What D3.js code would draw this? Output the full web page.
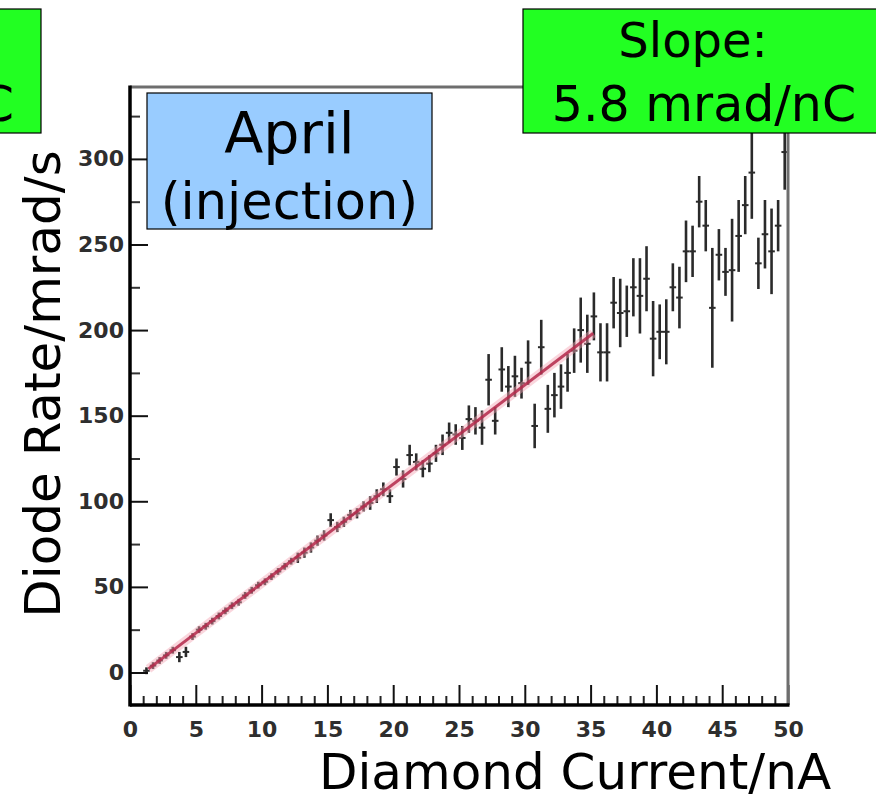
<!DOCTYPE html>
<html>
<head>
<meta charset="utf-8">
<script src="https://cdn.jsdelivr.net/npm/d3@7"></script>
<style>
  html, body { margin: 0; padding: 0; background: #fff; }
  svg { display: block; }
</style>
</head>
<body>
<svg id="chart" width="876" height="794"></svg>
<script>
// Diamond current bins (nA, bin centres) and the measured diode rate per bin
const current = [
  1.25, 1.75, 2.25, 2.75, 3.25, 3.75, 4.25, 4.75, 5.25, 5.75,
  6.25, 6.75, 7.25, 7.75, 8.25, 8.75, 9.25, 9.75, 10.25, 10.75,
  11.25, 11.75, 12.25, 12.75, 13.25, 13.75, 14.25, 14.75, 15.25, 15.75,
  16.25, 16.75, 17.25, 17.75, 18.25, 18.75, 19.25, 19.75, 20.25, 20.75,
  21.25, 21.75, 22.25, 22.75, 23.25, 23.75, 24.25, 24.75, 25.25, 25.75,
  26.25, 26.75, 27.25, 27.75, 28.25, 28.75, 29.25, 29.75, 30.25, 30.75,
  31.25, 31.75, 32.25, 32.75, 33.25, 33.75, 34.25, 34.75, 35.25, 35.75,
  36.25, 36.75, 37.25, 37.75, 38.25, 38.75, 39.25, 39.75, 40.25, 40.75,
  41.25, 41.75, 42.25, 42.75, 43.25, 43.75, 44.25, 44.75, 45.25, 45.75,
  46.25, 46.75, 47.25, 47.75, 48.25, 48.75, 49.25, 49.75
];
const rate = [
  1, 4, 7, 10, 13, 9, 12, 21, 25, 27,
  30, 33, 36, 39, 41, 45, 48, 51, 53, 56,
  59, 62, 65, 67, 70, 73, 77, 80, 89, 85,
  88, 92, 93, 97, 99, 103, 107, 103, 120, 113,
  127, 123, 119, 122, 128, 133, 140, 139, 137, 148,
  147, 143, 171, 147, 177, 167, 173, 169, 181, 144,
  190, 154, 162, 167, 175, 188, 200, 192, 208, 187,
  187, 216, 210, 211, 225, 220, 230, 195, 199, 199,
  225, 219, 246, 246, 275, 261, 213, 244, 234, 235,
  255, 273, 292, 239, 256, 246, 261, 304
];
const rateErr = [
  2, 2, 2, 2, 2, 3, 3, 2, 2, 2,
  2, 2, 2, 2, 2, 2, 2, 2, 2, 2,
  2, 2, 2, 3, 3, 3, 3, 3, 4, 3,
  3, 3, 3, 3, 4, 4, 4, 4, 5, 5,
  6, 5, 5, 5, 5, 6, 6, 6, 7, 8,
  8, 10, 15, 8, 13, 12, 12, 9, 13, 13,
  16, 14, 13, 13, 11, 13, 19, 17, 14, 17,
  17, 15, 20, 15, 17, 22, 19, 22, 16, 19,
  14, 18, 18, 15, 15, 15, 35, 15, 14, 30,
  21, 17, 27, 15, 20, 25, 15, 22
];
const binHalfWidth = 0.25;

// Linear fit drawn over the bins
const fitSlope = 5.8;       // mrad/nC
const fitIntercept = -6;
const fitRange = [1.4, 35.2];

// Axis ticks
const xTicks = [0, 5, 10, 15, 20, 25, 30, 35, 40, 45, 50];
const yTicks = [0, 50, 100, 150, 200, 250, 300];
const yMinorTicks = [25, 75, 125, 175, 225, 275, 325];

const svg = d3.select("#chart");
const plotLeft = 130, plotRight = 788, plotTop = 87, plotBottom = 705;

const x = d3.scaleLinear().domain([0, 50]).range([plotLeft, plotRight]);
const y = d3.scaleLinear().domain([-19, 342]).range([plotBottom, plotTop]);

const points = current.map((c, i) => ({ c, r: rate[i], e: rateErr[i] }));

// error bars
const bars = svg.append("g").attr("stroke", "#2a2a2a").attr("stroke-width", 2.6);
bars.selectAll("line.v").data(points).join("line")
  .attr("class", "v")
  .attr("x1", d => x(d.c)).attr("x2", d => x(d.c))
  .attr("y1", d => y(Math.min(d.r + d.e, 342))).attr("y2", d => y(d.r - d.e));
bars.selectAll("line.h").data(points).join("line")
  .attr("class", "h")
  .attr("stroke-width", 2)
  .attr("x1", d => x(d.c - binHalfWidth)).attr("x2", d => x(d.c + binHalfWidth))
  .attr("y1", d => y(d.r)).attr("y2", d => y(d.r));

// fit line with soft halo
const fitPts = fitRange.map(v => [x(v), y(fitSlope * v + fitIntercept)]);
const lineGen = d3.line();
svg.append("path").attr("d", lineGen(fitPts))
  .attr("stroke", "#f4a3b4").attr("stroke-width", 9).attr("stroke-opacity", 0.45)
  .attr("fill", "none");
svg.append("path").attr("d", lineGen(fitPts))
  .attr("stroke", "#b3284a").attr("stroke-width", 3).attr("stroke-opacity", 0.85)
  .attr("fill", "none");

// axes
const tickFont = g => g.selectAll("text")
  .attr("font-family", "DejaVu Sans").attr("font-weight", "bold")
  .attr("font-size", 22).attr("fill", "#2e2e2e");

const xAxis = svg.append("g").attr("transform", `translate(0,${plotBottom})`)
  .call(d3.axisBottom(x).tickValues(xTicks).tickFormat(d3.format("d"))
    .tickSizeInner(-20).tickSizeOuter(0).tickPadding(16));
xAxis.call(tickFont);
xAxis.select(".domain").remove();
xAxis.selectAll(".tick line").attr("stroke", "#111").attr("stroke-width", 2);

const xMinor = svg.append("g").attr("transform", `translate(0,${plotBottom})`)
  .call(d3.axisBottom(x).tickValues(d3.range(1, 50).filter(v => v % 5 !== 0))
    .tickFormat("").tickSizeInner(-9).tickSizeOuter(0));
xMinor.select(".domain").remove();
xMinor.selectAll(".tick line").attr("stroke", "#222").attr("stroke-width", 2);

const yAxis = svg.append("g").attr("transform", `translate(${plotLeft},0)`)
  .call(d3.axisLeft(y).tickValues(yTicks).tickFormat(d3.format("d"))
    .tickSizeInner(-18).tickSizeOuter(0).tickPadding(6));
yAxis.call(tickFont);
yAxis.select(".domain").remove();
yAxis.selectAll(".tick line").attr("stroke", "#111").attr("stroke-width", 2);

const yMinor = svg.append("g").attr("transform", `translate(${plotLeft},0)`)
  .call(d3.axisLeft(y).tickValues(yMinorTicks).tickFormat("")
    .tickSizeInner(-10).tickSizeOuter(0));
yMinor.select(".domain").remove();
yMinor.selectAll(".tick line").attr("stroke", "#333").attr("stroke-width", 2);

// frame: dark left/bottom axes, grey top/right edges
svg.append("line").attr("x1", plotLeft).attr("x2", plotRight).attr("y1", plotTop).attr("y2", plotTop)
  .attr("stroke", "#6e6e6e").attr("stroke-width", 3);
svg.append("line").attr("x1", plotRight).attr("x2", plotRight).attr("y1", plotTop).attr("y2", plotBottom)
  .attr("stroke", "#6e6e6e").attr("stroke-width", 3);
svg.append("line").attr("x1", plotLeft).attr("x2", plotLeft).attr("y1", plotTop - 1.5).attr("y2", plotBottom + 1.5)
  .attr("stroke", "#000").attr("stroke-width", 3.5);
svg.append("line").attr("x1", plotLeft).attr("x2", plotRight + 1.5).attr("y1", plotBottom).attr("y2", plotBottom)
  .attr("stroke", "#000").attr("stroke-width", 3.5);

// axis titles
const titleFont = "DejaVu Sans";
svg.append("text")
  .attr("x", 575).attr("y", 789)
  .attr("text-anchor", "middle")
  .attr("font-family", titleFont).attr("font-size", 50)
  .attr("fill", "#000")
  .text("Diamond Current/nA");
svg.append("text")
  .attr("transform", "translate(60,384) rotate(-90)")
  .attr("text-anchor", "middle")
  .attr("font-family", titleFont).attr("font-size", 50)
  .attr("fill", "#000")
  .text("Diode Rate/mrad/s");

// period label
svg.append("rect").attr("x", 147).attr("y", 93).attr("width", 285).attr("height", 136)
  .attr("fill", "#99ccff").attr("stroke", "#000").attr("stroke-width", 1.2);
svg.append("text").attr("x", 289.5).attr("y", 153).attr("text-anchor", "middle")
  .attr("font-family", titleFont).attr("font-size", 57).text("April");
svg.append("text").attr("x", 289.5).attr("y", 219).attr("text-anchor", "middle")
  .attr("font-family", titleFont).attr("font-size", 51).text("(injection)");

// slope panels
svg.append("rect").attr("x", -320).attr("y", 9).attr("width", 361).attr("height", 124)
  .attr("fill", "#22ff22").attr("stroke", "#000").attr("stroke-width", 1.2);
svg.append("text").attr("x", 14).attr("y", 121).attr("text-anchor", "end")
  .attr("font-family", titleFont).attr("font-size", 49).text("mrad/nC");

svg.append("rect").attr("x", 523).attr("y", 9).attr("width", 380).attr("height", 124)
  .attr("fill", "#22ff22").attr("stroke", "#000").attr("stroke-width", 1.2);
svg.append("text").attr("x", 693).attr("y", 57).attr("text-anchor", "middle")
  .attr("font-family", titleFont).attr("font-size", 48).text("Slope:");
svg.append("text").attr("x", 704).attr("y", 121).attr("text-anchor", "middle")
  .attr("font-family", titleFont).attr("font-size", 49).text(`${fitSlope} mrad/nC`);
</script>
</body>
</html>
